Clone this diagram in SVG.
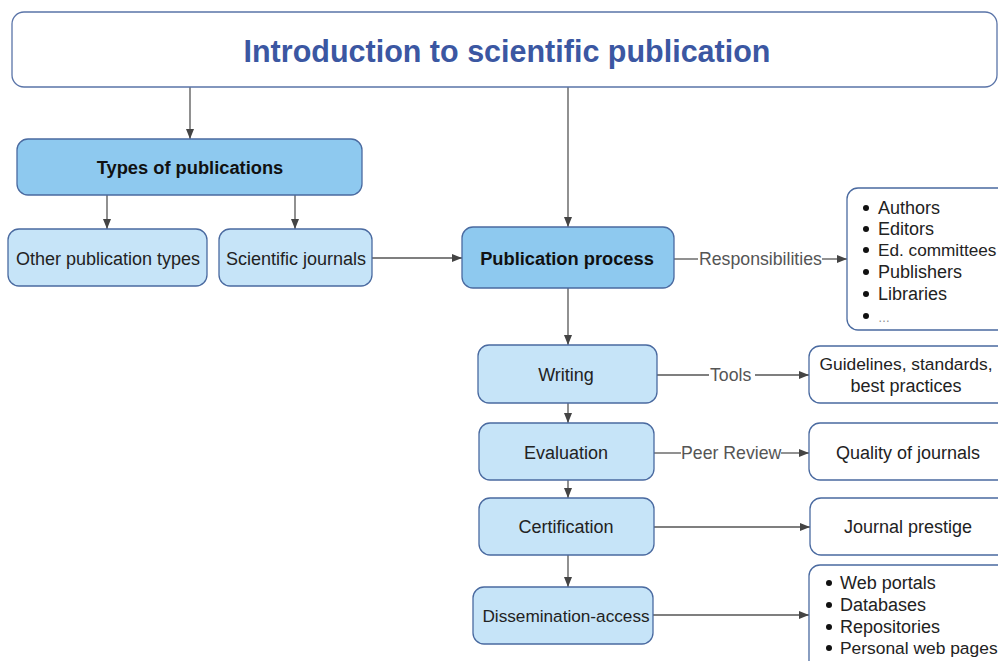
<svg xmlns="http://www.w3.org/2000/svg" width="998" height="661" viewBox="0 0 998 661">
  <style>
    .title { fill: #ffffff; stroke: #5a74a8; stroke-width: 1.3; }
    .main { fill: #8ec9ef; stroke: #4a6aa0; stroke-width: 1.3; }
    .sub { fill: #c6e4f8; stroke: #4a6aa0; stroke-width: 1.3; }
    .leaf { fill: #ffffff; stroke: #4a6aa0; stroke-width: 1.3; }
    .t { font-family: "Liberation Sans", Arial, sans-serif; font-size: 18px; fill: #222; }
    .b { font-weight: bold; fill: #111; font-size: 18.3px; }
    .lbl { font-family: "Liberation Sans", Arial, sans-serif; font-size: 17.7px; fill: #555; }
    .edge { stroke: #555; stroke-width: 1.3; fill: none; }
    .mid { text-anchor: middle; }
  </style>
  <defs>
    <marker id="arr" viewBox="0 0 10 8" refX="10" refY="4" markerWidth="10" markerHeight="8" markerUnits="userSpaceOnUse" orient="auto">
      <path d="M0,0 L10,4 L0,8 z" fill="#444"/>
    </marker>
  </defs>

  <rect width="998" height="661" fill="#ffffff"/>

  <g id="connectors">
    <line class="edge" x1="190" y1="87" x2="190" y2="139" marker-end="url(#arr)"/>
    <line class="edge" x1="568" y1="87" x2="568" y2="227" marker-end="url(#arr)"/>
    <line class="edge" x1="107" y1="195" x2="107" y2="229" marker-end="url(#arr)"/>
    <line class="edge" x1="295" y1="195" x2="295" y2="229" marker-end="url(#arr)"/>
    <line class="edge" x1="372" y1="258" x2="462" y2="258" marker-end="url(#arr)"/>
    <line class="edge" x1="674" y1="259" x2="698" y2="259"/>
    <text class="lbl" x="699" y="265">Responsibilities</text>
    <line class="edge" x1="822" y1="259" x2="847" y2="259" marker-end="url(#arr)"/>
    <line class="edge" x1="568" y1="288" x2="568" y2="345" marker-end="url(#arr)"/>
    <line class="edge" x1="657" y1="375" x2="709" y2="375"/>
    <text class="lbl" x="710" y="381">Tools</text>
    <line class="edge" x1="755" y1="375" x2="809" y2="375" marker-end="url(#arr)"/>
    <line class="edge" x1="568" y1="403" x2="568" y2="423" marker-end="url(#arr)"/>
    <line class="edge" x1="654" y1="453" x2="681" y2="453"/>
    <text class="lbl" x="681" y="459">Peer Review</text>
    <line class="edge" x1="781" y1="453" x2="809" y2="453" marker-end="url(#arr)"/>
    <line class="edge" x1="568" y1="480" x2="568" y2="498" marker-end="url(#arr)"/>
    <line class="edge" x1="654" y1="527" x2="810" y2="527" marker-end="url(#arr)"/>
    <line class="edge" x1="568" y1="555" x2="568" y2="587" marker-end="url(#arr)"/>
    <line class="edge" x1="653" y1="615" x2="809" y2="615" marker-end="url(#arr)"/>
  </g>

  <g id="intro">
    <rect class="title" x="12" y="12" width="985" height="75" rx="12"/>
    <text x="507" y="62" text-anchor="middle" font-family="Liberation Sans, Arial, sans-serif" font-size="30.5" font-weight="bold" fill="#3b57a2">Introduction to scientific publication</text>
  </g>

  <g id="types">
    <rect class="main" x="17" y="139" width="345" height="56" rx="11"/>
    <text class="t b mid" x="190" y="174">Types of publications</text>
  </g>

  <g id="other-types">
    <rect class="sub" x="8" y="229" width="199" height="57" rx="11"/>
    <text class="t mid" x="108" y="265">Other publication types</text>
  </g>

  <g id="journals">
    <rect class="sub" x="219" y="229" width="153" height="57" rx="11"/>
    <text class="t mid" x="296" y="265">Scientific journals</text>
  </g>

  <g id="process">
    <rect class="main" x="462" y="227" width="212" height="61" rx="11"/>
    <text class="t b mid" x="567" y="265">Publication process</text>
  </g>

  <g id="responsibilities">
    <rect class="leaf" x="847" y="188" width="170" height="142" rx="11"/>
    <g class="t">
      <circle cx="866" cy="208" r="3" fill="#111"/><text x="878" y="214">Authors</text>
      <circle cx="866" cy="229" r="3" fill="#111"/><text x="878" y="235">Editors</text>
      <circle cx="866" cy="250" r="3" fill="#111"/><text x="878" y="256" style="font-size:17.2px">Ed. committees</text>
      <circle cx="866" cy="272" r="3" fill="#111"/><text x="878" y="278">Publishers</text>
      <circle cx="866" cy="294" r="3" fill="#111"/><text x="878" y="300">Libraries</text>
      <circle cx="866" cy="316" r="3" fill="#111"/><text x="878" y="322" fill="#888" style="font-size:12px">…</text>
    </g>
  </g>

  <g id="writing">
    <rect class="sub" x="478" y="345" width="179" height="58" rx="11"/>
    <text class="t mid" x="566" y="381">Writing</text>
  </g>

  <g id="guidelines">
    <rect class="leaf" x="809" y="346" width="210" height="57" rx="11"/>
    <text class="t mid" x="906" y="370" style="font-size:17.4px">Guidelines, standards,</text>
    <text class="t mid" x="906" y="392">best practices</text>
  </g>

  <g id="evaluation">
    <rect class="sub" x="479" y="423" width="175" height="57" rx="11"/>
    <text class="t mid" x="566" y="459">Evaluation</text>
  </g>

  <g id="quality">
    <rect class="leaf" x="809" y="423" width="210" height="57" rx="11"/>
    <text class="t mid" x="908" y="459">Quality of journals</text>
  </g>

  <g id="certification">
    <rect class="sub" x="479" y="498" width="175" height="57" rx="11"/>
    <text class="t mid" x="566" y="533">Certification</text>
  </g>

  <g id="prestige">
    <rect class="leaf" x="810" y="498" width="210" height="57" rx="11"/>
    <text class="t mid" x="908" y="533">Journal prestige</text>
  </g>

  <g id="dissemination">
    <rect class="sub" x="473" y="587" width="180" height="57" rx="11"/>
    <text class="t mid" x="566" y="622" style="font-size:17.2px">Dissemination-access</text>
  </g>

  <g id="channels">
    <rect class="leaf" x="809" y="565" width="210" height="110" rx="11"/>
    <g class="t">
      <circle cx="829" cy="583" r="3" fill="#111"/><text x="840" y="589">Web portals</text>
      <circle cx="829" cy="605" r="3" fill="#111"/><text x="840" y="611">Databases</text>
      <circle cx="829" cy="627" r="3" fill="#111"/><text x="840" y="633">Repositories</text>
      <circle cx="829" cy="648" r="3" fill="#111"/><text x="840" y="654" style="font-size:17.4px">Personal web pages</text>
    </g>
  </g>
</svg>
